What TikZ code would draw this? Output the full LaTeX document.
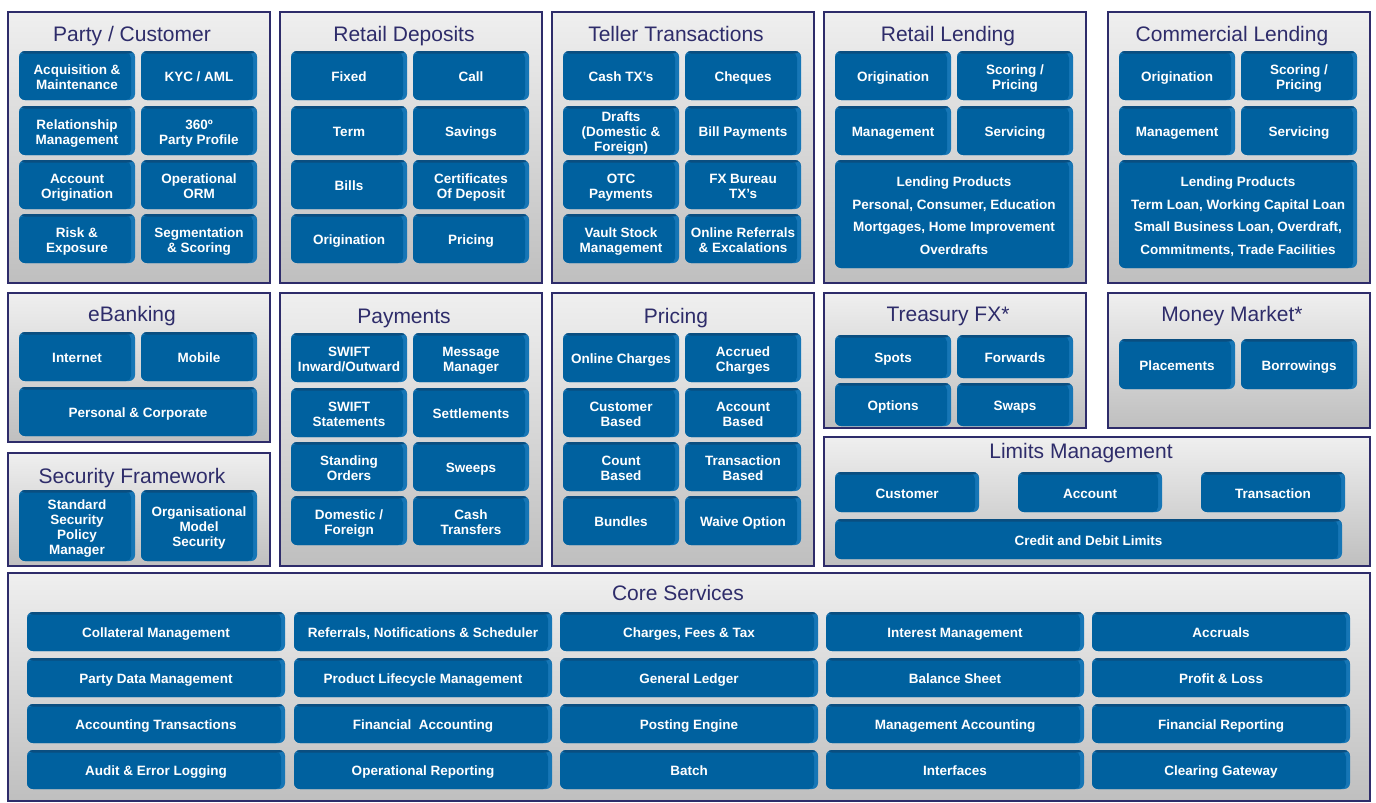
\documentclass[tikz,border=0pt]{standalone}
\usepackage{fontspec}
\setmainfont{Liberation Sans}
\definecolor{boxface}{HTML}{00619F}
\definecolor{boxside}{HTML}{1676B6}
\definecolor{boxtop}{HTML}{0A4E80}
\definecolor{navy}{HTML}{2E2C6A}
\definecolor{ptop}{HTML}{EFEFEF}
\definecolor{pbot}{HTML}{BFBFBF}
\newcommand\bxfont{\fontsize{13.5}{15}\selectfont\bfseries}
\newcommand\bigbxfont{\fontsize{13.5}{22.5}\selectfont\bfseries}
\newcommand\ttlfont{\fontsize{21}{24}\selectfont}
\newcommand\bx[7][]{\node[bbox,#1,minimum width=#5pt,minimum height=#6pt] (#2) at ({#3+#5/2},{#4+#6/2}) {\rule{0pt}{15.7pt}#7\rule[-3pt]{0pt}{3pt}};}
\newcommand\pnl[8]{\path[panel] (#2,#3) rectangle (#4,#5); \node[ttl] (#1) at (#7,{#8+7}) {#6};}
\tikzset{
  bbox/.style={rounded corners=6pt, fill=boxside, inner sep=0pt, text=white, font=\bxfont, align=center,
    path picture={
      \fill[boxface, rounded corners=5pt] ([yshift=-2pt]path picture bounding box.north west) rectangle ([xshift=-4pt]path picture bounding box.south east);
      \fill[boxtop] (path picture bounding box.north west) rectangle ([yshift=-2.5pt]path picture bounding box.north east);
    }},
  panel/.style={draw=navy, line width=1.1pt, top color=ptop, bottom color=pbot},
  ttl/.style={text=navy, font=\ttlfont, inner sep=0pt, anchor=base}
}
\begin{document}
\begin{tikzpicture}[x=1pt,y=-1pt]
\useasboundingbox[fill=white] (0,0) rectangle (1376,803);

% ---------- Party / Customer
\pnl{tpc}{8}{12}{270}{283}{Party / Customer}{132}{34}
\bx{pc1}{19}{51}{116}{49}{Acquisition \&\\Maintenance}
\bx{pc2}{141}{51}{116}{49}{KYC / AML}
\bx{pc3}{19}{106}{116}{49}{Relationship\\Management}
\bx{pc4}{141}{106}{116}{49}{360º\\Party Profile}
\bx{pc5}{19}{160}{116}{49}{Account\\Origination}
\bx{pc6}{141}{160}{116}{49}{Operational\\ORM}
\bx{pc7}{19}{214}{116}{49}{Risk \&\\Exposure}
\bx{pc8}{141}{214}{116}{49}{Segmentation\\\& Scoring}

% ---------- Retail Deposits
\pnl{trd}{280}{12}{542}{283}{Retail Deposits}{404}{34}
\bx{rd1}{291}{51}{116}{49}{Fixed}
\bx{rd2}{413}{51}{116}{49}{Call}
\bx{rd3}{291}{106}{116}{49}{Term}
\bx{rd4}{413}{106}{116}{49}{Savings}
\bx{rd5}{291}{160}{116}{49}{Bills}
\bx{rd6}{413}{160}{116}{49}{Certificates\\Of Deposit}
\bx{rd7}{291}{214}{116}{49}{Origination}
\bx{rd8}{413}{214}{116}{49}{Pricing}

% ---------- Teller Transactions
\pnl{ttt}{552}{12}{814}{283}{Teller Transactions}{676}{34}
\bx{tt1}{563}{51}{116}{49}{Cash TX's}
\bx{tt2}{685}{51}{116}{49}{Cheques}
\bx{tt3}{563}{106}{116}{49}{Drafts\\(Domestic \&\\Foreign)}
\bx{tt4}{685}{106}{116}{49}{Bill Payments}
\bx{tt5}{563}{160}{116}{49}{OTC\\Payments}
\bx{tt6}{685}{160}{116}{49}{FX Bureau\\TX's}
\bx{tt7}{563}{214}{116}{49}{Vault Stock\\Management}
\bx{tt8}{685}{214}{116}{49}{Online Referrals\\\& Excalations}

% ---------- Retail Lending
\pnl{trl}{824}{12}{1086}{283}{Retail Lending}{948}{34}
\bx{rl1}{835}{51}{116}{49}{Origination}
\bx{rl2}{957}{51}{116}{49}{Scoring /\\Pricing}
\bx{rl3}{835}{106}{116}{49}{Management}
\bx{rl4}{957}{106}{116}{49}{Servicing}
\bx[font=\bigbxfont]{rl5}{835}{160}{238}{108}{Lending Products\\Personal, Consumer, Education\\Mortgages, Home Improvement\\Overdrafts}

% ---------- Commercial Lending
\pnl{tcl}{1108}{12}{1370}{283}{Commercial Lending}{1232}{34}
\bx{cl1}{1119}{51}{116}{49}{Origination}
\bx{cl2}{1241}{51}{116}{49}{Scoring /\\Pricing}
\bx{cl3}{1119}{106}{116}{49}{Management}
\bx{cl4}{1241}{106}{116}{49}{Servicing}
\bx[font=\bigbxfont]{cl5}{1119}{160}{238}{108}{Lending Products\\Term Loan, Working Capital Loan\\Small Business Loan, Overdraft,\\Commitments, Trade Facilities}

% ---------- eBanking
\pnl{teb}{8}{293}{270}{442}{eBanking}{132}{314}
\bx{eb1}{19}{332}{116}{49}{Internet}
\bx{eb2}{141}{332}{116}{49}{Mobile}
\bx{eb3}{19}{387}{238}{49}{Personal \& Corporate}

% ---------- Security Framework
\pnl{tsf}{8}{453}{270}{566}{Security Framework}{132}{476}
\bx{sf1}{19}{490}{116}{71}{Standard\\Security\\Policy\\Manager}
\bx{sf2}{141}{490}{116}{71}{Organisational\\Model\\Security}

% ---------- Payments
\pnl{tpy}{280}{293}{542}{566}{Payments}{404}{316}
\bx{py1}{291}{333}{116}{49}{SWIFT\\Inward/Outward}
\bx{py2}{413}{333}{116}{49}{Message\\Manager}
\bx{py3}{291}{388}{116}{49}{SWIFT\\Statements}
\bx{py4}{413}{388}{116}{49}{Settlements}
\bx{py5}{291}{442}{116}{49}{Standing\\Orders}
\bx{py6}{413}{442}{116}{49}{Sweeps}
\bx{py7}{291}{496}{116}{49}{Domestic /\\Foreign}
\bx{py8}{413}{496}{116}{49}{Cash\\Transfers}

% ---------- Pricing
\pnl{tpr}{552}{293}{814}{566}{Pricing}{676}{316}
\bx{pr1}{563}{333}{116}{49}{Online Charges}
\bx{pr2}{685}{333}{116}{49}{Accrued\\Charges}
\bx{pr3}{563}{388}{116}{49}{Customer\\Based}
\bx{pr4}{685}{388}{116}{49}{Account\\Based}
\bx{pr5}{563}{442}{116}{49}{Count\\Based}
\bx{pr6}{685}{442}{116}{49}{Transaction\\Based}
\bx{pr7}{563}{496}{116}{49}{Bundles}
\bx{pr8}{685}{496}{116}{49}{Waive Option}

% ---------- Treasury FX
\pnl{ttf}{824}{293}{1086}{428}{Treasury FX*}{948}{314}
\bx{tf1}{835}{335}{116}{43}{Spots}
\bx{tf2}{957}{335}{116}{43}{Forwards}
\bx{tf3}{835}{383}{116}{43}{Options}
\bx{tf4}{957}{383}{116}{43}{Swaps}

% ---------- Money Market
\pnl{tmm}{1108}{293}{1370}{428}{Money Market*}{1232}{314}
\bx{mm1}{1119}{339}{116}{50}{Placements}
\bx{mm2}{1241}{339}{116}{50}{Borrowings}

% ---------- Limits Management
\pnl{tlm}{824}{437}{1370}{566}{Limits Management}{1081}{451}
\bx{lm1}{835}{472}{144}{40}{Customer}
\bx{lm2}{1018}{472}{144}{40}{Account}
\bx{lm3}{1201}{472}{144}{40}{Transaction}
\bx{lm4}{835}{519}{507}{40}{Credit and Debit Limits}

% ---------- Core Services
\pnl{tcs}{8}{573}{1370}{801}{Core Services}{678}{593}
\bx{cs11}{27}{612}{258}{39}{Collateral Management}
\bx{cs12}{294}{612}{258}{39}{Referrals, Notifications \& Scheduler}
\bx{cs13}{560}{612}{258}{39}{Charges, Fees \& Tax}
\bx{cs14}{826}{612}{258}{39}{Interest Management}
\bx{cs15}{1092}{612}{258}{39}{Accruals}
\bx{cs21}{27}{658}{258}{39}{Party Data Management}
\bx{cs22}{294}{658}{258}{39}{Product Lifecycle Management}
\bx{cs23}{560}{658}{258}{39}{General Ledger}
\bx{cs24}{826}{658}{258}{39}{Balance Sheet}
\bx{cs25}{1092}{658}{258}{39}{Profit \& Loss}
\bx{cs31}{27}{704}{258}{39}{Accounting Transactions}
\bx{cs32}{294}{704}{258}{39}{Financial\ \ Accounting}
\bx{cs33}{560}{704}{258}{39}{Posting Engine}
\bx{cs34}{826}{704}{258}{39}{Management Accounting}
\bx{cs35}{1092}{704}{258}{39}{Financial Reporting}
\bx{cs41}{27}{750}{258}{39}{Audit \& Error Logging}
\bx{cs42}{294}{750}{258}{39}{Operational Reporting}
\bx{cs43}{560}{750}{258}{39}{Batch}
\bx{cs44}{826}{750}{258}{39}{Interfaces}
\bx{cs45}{1092}{750}{258}{39}{Clearing Gateway}
\end{tikzpicture}
\end{document}
